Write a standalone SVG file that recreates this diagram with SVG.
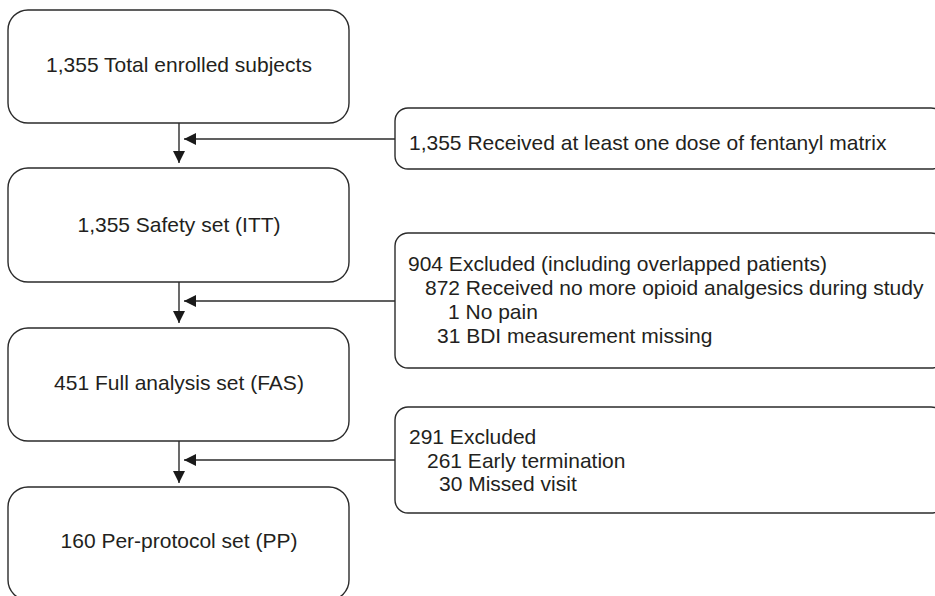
<svg xmlns="http://www.w3.org/2000/svg" width="935" height="596" viewBox="0 0 935 596">
  <style>
    .box { fill: #ffffff; stroke: #2b2b2b; stroke-width: 1.4; }
    .link { fill: none; stroke: #2b2b2b; stroke-width: 1.4; }
    .lbl { font-family: "Liberation Sans", Arial, sans-serif; font-size: 21px; fill: #231f20; }
    .mid { text-anchor: middle; }
  </style>
  <defs>
    <marker id="arrow" viewBox="0 0 12 12" refX="12" refY="6" markerWidth="12" markerHeight="12" markerUnits="userSpaceOnUse" orient="auto">
      <path d="M0,0 L12,6 L0,12 Z" fill="#1a1a1a"/>
    </marker>
  </defs>
  <rect width="935" height="596" fill="#ffffff"/>

  <!-- main flow boxes -->
  <g id="enrolled">
    <rect class="box" x="8" y="10" width="341" height="113" rx="20"/>
    <text class="lbl mid" x="179" y="72">1,355 Total enrolled subjects</text>
  </g>
  <g id="safety">
    <rect class="box" x="8" y="168" width="341" height="114" rx="20"/>
    <text class="lbl mid" x="179" y="232">1,355 Safety set (ITT)</text>
  </g>
  <g id="fas">
    <rect class="box" x="8" y="328" width="341" height="113" rx="20"/>
    <text class="lbl mid" x="179" y="390">451 Full analysis set (FAS)</text>
  </g>
  <g id="pp">
    <rect class="box" x="8" y="487" width="341" height="113" rx="20"/>
    <text class="lbl mid" x="179" y="548">160 Per-protocol set (PP)</text>
  </g>

  <!-- side boxes -->
  <g id="received">
    <rect class="box" x="395" y="108" width="549" height="61" rx="13"/>
    <text class="lbl" x="409" y="150">1,355 Received at least one dose of fentanyl matrix</text>
  </g>
  <g id="excluded-fas">
    <rect class="box" x="395" y="233" width="549" height="135" rx="13"/>
    <text class="lbl" x="408" y="271">904 Excluded (including overlapped patients)</text>
    <text class="lbl" x="425" y="295">872 Received no more opioid analgesics during study</text>
    <text class="lbl" x="448" y="319">1 No pain</text>
    <text class="lbl" x="437" y="343">31 BDI measurement missing</text>
  </g>
  <g id="excluded-pp">
    <rect class="box" x="395" y="407" width="549" height="106" rx="13"/>
    <text class="lbl" x="409" y="444">291 Excluded</text>
    <text class="lbl" x="427" y="468">261 Early termination</text>
    <text class="lbl" x="439" y="491">30 Missed visit</text>
  </g>

  <!-- connectors -->
  <g id="connectors">
    <line class="link" x1="179" y1="123" x2="179" y2="163" marker-end="url(#arrow)"/>
    <line class="link" x1="395" y1="139" x2="184" y2="139" marker-end="url(#arrow)"/>
    <line class="link" x1="179" y1="282" x2="179" y2="323" marker-end="url(#arrow)"/>
    <line class="link" x1="395" y1="301" x2="184" y2="301" marker-end="url(#arrow)"/>
    <line class="link" x1="179" y1="441" x2="179" y2="483" marker-end="url(#arrow)"/>
    <line class="link" x1="395" y1="460" x2="184" y2="460" marker-end="url(#arrow)"/>
  </g>
</svg>
